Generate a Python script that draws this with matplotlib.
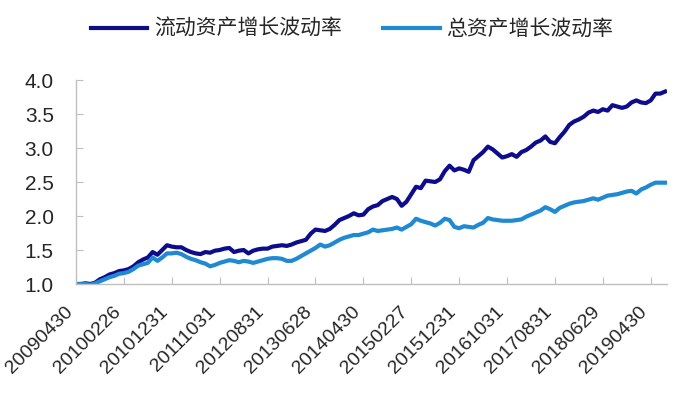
import numpy as np
import matplotlib
matplotlib.use("Agg")
import matplotlib.pyplot as plt
import matplotlib.transforms as mtransforms

plt.rcParams['font.family'] = ['Liberation Sans', 'Noto Sans CJK SC', 'DejaVu Sans']

# 月度数据 2009-04 ~ 2019-07
liudong = [
    1.00, 1.00, 1.01, 1.00, 1.02, 1.07, 1.10, 1.14, 1.16, 1.19,
    1.20, 1.22, 1.26, 1.32, 1.36, 1.39, 1.47, 1.43, 1.50, 1.57,
    1.55, 1.54, 1.54, 1.50, 1.47, 1.45, 1.44, 1.47, 1.46, 1.49,
    1.50, 1.52, 1.53, 1.47, 1.49, 1.50, 1.45, 1.49, 1.51, 1.52,
    1.52, 1.55, 1.56, 1.57, 1.56, 1.58, 1.61, 1.63, 1.65, 1.74,
    1.80, 1.79, 1.78, 1.81, 1.87, 1.94, 1.97, 2.00, 2.04, 2.01,
    2.02, 2.10, 2.14, 2.16, 2.22, 2.25, 2.28, 2.25, 2.15, 2.21,
    2.32, 2.43, 2.41, 2.52, 2.51, 2.50, 2.54, 2.66, 2.74, 2.67,
    2.70, 2.68, 2.65, 2.82, 2.88, 2.94, 3.02, 2.98, 2.92, 2.86,
    2.88, 2.91, 2.87, 2.94, 2.97, 3.02, 3.08, 3.11, 3.17, 3.09,
    3.07, 3.16, 3.24, 3.34, 3.39, 3.42, 3.46, 3.52, 3.55, 3.53,
    3.57, 3.55, 3.63, 3.61, 3.59, 3.61, 3.67, 3.70, 3.67, 3.66,
    3.70, 3.80, 3.80, 3.83,
]
zong = [
    1.00, 1.00, 1.00, 0.99, 1.01, 1.04, 1.07, 1.10, 1.12, 1.15,
    1.16, 1.18, 1.22, 1.27, 1.29, 1.31, 1.39, 1.34, 1.39, 1.45,
    1.45, 1.46, 1.44, 1.40, 1.37, 1.35, 1.32, 1.30, 1.26, 1.28,
    1.31, 1.33, 1.35, 1.34, 1.32, 1.34, 1.33, 1.31, 1.33, 1.35,
    1.37, 1.38, 1.38, 1.37, 1.34, 1.34, 1.37, 1.41, 1.45, 1.49,
    1.53, 1.58, 1.55, 1.57, 1.61, 1.65, 1.68, 1.70, 1.72, 1.72,
    1.74, 1.76, 1.80, 1.78, 1.79, 1.80, 1.81, 1.83, 1.80, 1.84,
    1.88, 1.96, 1.93, 1.91, 1.89, 1.86, 1.90, 1.96, 1.94, 1.84,
    1.82, 1.85, 1.84, 1.83, 1.87, 1.90, 1.97, 1.95, 1.94, 1.93,
    1.93, 1.93, 1.94, 1.95, 1.99, 2.02, 2.05, 2.08, 2.13, 2.10,
    2.06, 2.12, 2.15, 2.18, 2.20, 2.21, 2.22, 2.24, 2.26, 2.24,
    2.27, 2.30, 2.31, 2.32, 2.34, 2.36, 2.37, 2.33, 2.39, 2.42,
    2.46, 2.49, 2.49, 2.49,
]
date_labels = ['20090430', '20100226', '20101231', '20111031', '20120831',
               '20130628', '20140430', '20150227', '20151231', '20161031',
               '20170831', '20180629', '20190430']

x = np.arange(len(liudong))

fig = plt.figure(figsize=(6.81, 3.93), dpi=100)
ax = fig.add_axes([76/681, 1-284/393, (667-76)/681, (284-80)/393])

ax.plot(x, liudong, color='#0c0c8c', lw=3.0, label='流动资产增长波动率')
ax.plot(x, zong, color='#1f89d2', lw=3.0, label='总资产增长波动率')

ax.set_xlim(0, 123.4)
ax.set_ylim(1.0, 4.0)
ax.set_yticks(np.arange(1.0, 4.01, 0.5))
ax.set_yticklabels([f'{v:.1f}' for v in np.arange(1.0, 4.01, 0.5)])
ax.set_xticks(np.arange(0, 121, 10))
ax.set_xticklabels(date_labels, rotation=45, ha='right', va='top', fontsize=14)

offset = mtransforms.ScaledTranslation(7/100, 0, fig.dpi_scale_trans)
for lab in ax.get_xticklabels():
    lab.set_transform(lab.get_transform() + offset)

for s in ['top', 'right']:
    ax.spines[s].set_visible(False)
for s in ['left', 'bottom']:
    ax.spines[s].set_color('#bfbfbf')
    ax.spines[s].set_linewidth(1.0)

ax.tick_params(axis='both', direction='in', length=5, color='#bfbfbf',
               labelcolor='#262626')
ax.tick_params(axis='y', pad=16, labelsize=15)
ax.tick_params(axis='x', pad=14)

fig.legend(loc='center', bbox_to_anchor=(352/681, 1-29/393), ncol=2,
           frameon=False, fontsize=15, handlelength=2.7, handletextpad=0.3,
           columnspacing=2.0, labelcolor='#262626')

fig.savefig('out.png', dpi=100)
